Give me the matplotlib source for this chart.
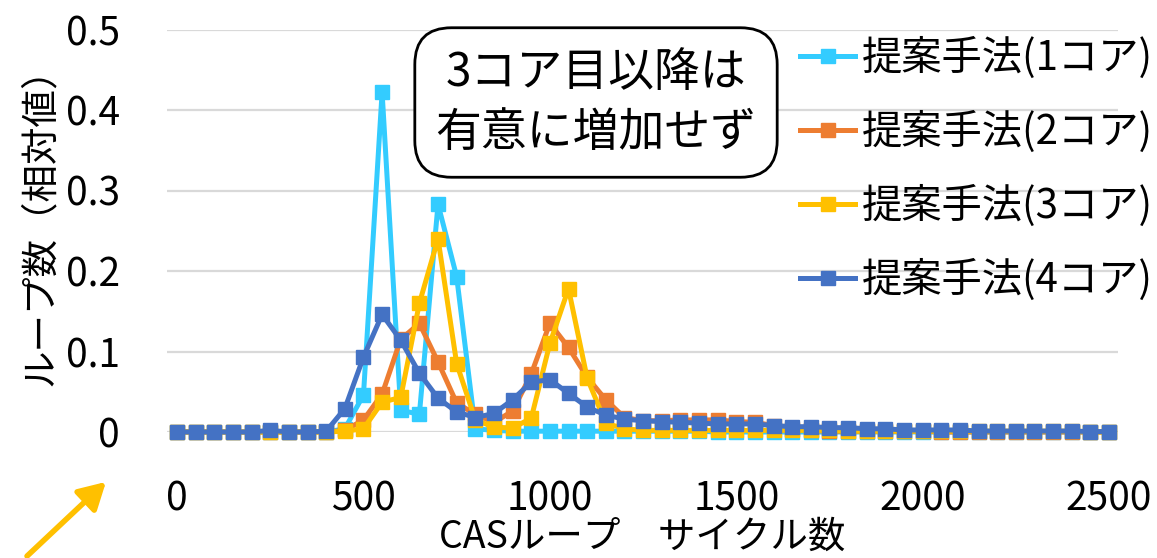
import numpy as np
import matplotlib
matplotlib.use("Agg")
import matplotlib.pyplot as plt

plt.rcParams['font.family'] = ['Noto Sans CJK JP', 'DejaVu Sans']

# CAS loop cycle bins (every 50 cycles)
cycles = np.arange(0, 2501, 50)

core1 = [0, 0, 0, 0, 0, 0, 0, 0, 0, 0.004,
         0.046, 0.422, 0.027, 0.022, 0.283, 0.193, 0.004, 0.002, 0.001, 0.001,
         0.001, 0.001, 0.001, 0.001, 0.001, 0.001, 0.001, 0.001, 0.001, 0,
         0, 0, 0, 0, 0, 0, 0, 0, 0, 0,
         0, 0, 0, 0, 0, 0, 0, 0, 0, 0, 0]
core2 = [0, 0, 0, 0, 0, 0, 0, 0, 0, 0.002,
         0.015, 0.047, 0.115, 0.135, 0.087, 0.036, 0.022, 0.012, 0.026, 0.072,
         0.135, 0.105, 0.068, 0.040, 0.018, 0.014, 0.014, 0.015, 0.015, 0.015,
         0.013, 0.012, 0.008, 0.004, 0.002, 0.001, 0.001, 0.001, 0.001, 0.001,
         0.001, 0, 0, 0, 0, 0, 0, 0, 0, 0, 0]
core3 = [0, 0, 0, 0, 0, 0, 0, 0, 0, 0.001,
         0.004, 0.037, 0.043, 0.160, 0.240, 0.085, 0.015, 0.006, 0.005, 0.017,
         0.110, 0.178, 0.067, 0.011, 0.004, 0.002, 0.002, 0.002, 0.002, 0.002,
         0.002, 0.002, 0.002, 0.002, 0.002, 0.002, 0.001, 0.001, 0.001, 0.001,
         0.001, 0.001, 0.001, 0.001, 0.001, 0.001, 0.001, 0.001, 0.001, 0, 0]
core4 = [0, 0, 0, 0, 0, 0.002, 0, 0, 0.001, 0.029,
         0.093, 0.146, 0.114, 0.073, 0.042, 0.025, 0.018, 0.023, 0.040, 0.062,
         0.065, 0.048, 0.031, 0.021, 0.016, 0.014, 0.013, 0.012, 0.011, 0.010,
         0.010, 0.010, 0.008, 0.0066, 0.0066, 0.0054, 0.0054, 0.004, 0.004, 0.0025,
         0.0025, 0.0025, 0.0025, 0.0012, 0.0012, 0.0012, 0.0012, 0.0012, 0.0012, 0.0005, 0.0005]

labels = ['提案手法(1コア)', '提案手法(2コア)', '提案手法(3コア)', '提案手法(4コア)']
colors = ['#33CCFF', '#ED7D31', '#FFC000', '#4472C4']
series = [core1, core2, core3, core4]

x_ticks = [0, 500, 1000, 1500, 2000, 2500]
y_ticks = [0, 0.1, 0.2, 0.3, 0.4, 0.5]
y_ticklabels = ['0', '0.1', '0.2', '0.3', '0.4', '0.5']

W, H = 1157, 558
fig = plt.figure(figsize=(W / 100, H / 100), dpi=100)
ax = fig.add_axes([167 / W, 126 / H, (1118 - 167) / W, (432 - 29.5) / H])

for vals, col, lab in zip(series, colors, labels):
    ax.plot(cycles, vals, color=col, lw=3.6, marker='s', markersize=9.5,
            label=lab, clip_on=False, zorder=3)

ax.set_xlim(-27, 2524)
ax.set_ylim(0, 0.5)
ax.set_xticks(x_ticks)
ax.set_xticklabels([str(v) for v in x_ticks])
ax.set_yticks(y_ticks)
ax.set_yticklabels(y_ticklabels)
ax.tick_params(axis='both', length=0, labelsize=28)
ax.tick_params(axis='y', pad=34)
ax.tick_params(axis='x', pad=34)
ax.yaxis.grid(True, color='#D9D9D9', lw=1.6)
ax.set_axisbelow(True)
for s in ax.spines.values():
    s.set_visible(False)

leg = ax.legend(loc='upper left', bbox_to_anchor=(784 / W, 1 - 21 / H),
                bbox_transform=fig.transFigure, frameon=False,
                fontsize=29, handlelength=1.36, handletextpad=0.17,
                labelspacing=0.79, borderaxespad=0)

ax.text(596 / W, 1 - 102.5 / H, '3コア目以降は\n有意に増加せず',
        transform=fig.transFigure, ha='center', va='center', fontsize=33,
        linespacing=1.3,
        bbox=dict(boxstyle='round,pad=0.45,rounding_size=0.8', fc='white',
                  ec='black', lw=2))

fig.text(642 / W, 1 - 537 / H, 'CASループ　サイクル数', ha='center',
         va='center', fontsize=27)
fig.text(40 / W, 1 - 217 / H, 'ループ数（相対値）', ha='center',
         va='center', rotation=90, fontsize=27)

fig.add_artist(matplotlib.patches.FancyArrowPatch(
    (25 / W, 0 / H), (108 / W, 1 - 480 / H),
    transform=fig.transFigure, arrowstyle='-|>,head_length=16,head_width=9',
    mutation_scale=1, color='#FFC000', lw=4))

fig.savefig('out.png', dpi=100)
